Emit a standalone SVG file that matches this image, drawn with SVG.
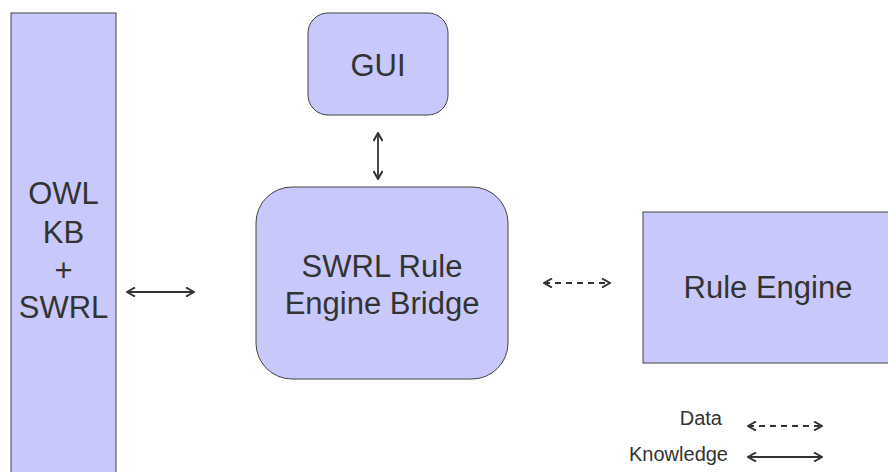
<svg xmlns="http://www.w3.org/2000/svg" width="888" height="472" viewBox="0 0 888 472">
<defs>
<marker id="ah" viewBox="0 0 10 10" refX="9" refY="5" markerWidth="10" markerHeight="10" markerUnits="userSpaceOnUse" orient="auto-start-reverse">
<path d="M1,0.5 L9,5 L1,9.5" fill="none" stroke="#333" stroke-width="2"/>
</marker>
</defs>
<style>
.box{fill:#C8C8FA;stroke:#444;stroke-width:1}
.lbl{font-family:"Liberation Sans",Arial,sans-serif;font-size:31px;fill:#333;text-anchor:middle}
.leg{font-family:"Liberation Sans",Arial,sans-serif;font-size:20px;fill:#333;text-anchor:end}
.k{stroke:#333;stroke-width:1.8;fill:none;marker-start:url(#ah);marker-end:url(#ah)}
.d{stroke:#333;stroke-width:1.8;fill:none;stroke-dasharray:6,5;marker-start:url(#ah);marker-end:url(#ah)}
</style>
<rect width="888" height="472" fill="#fff"/>
<g id="owl">
<rect class="box" x="11" y="13" width="105" height="470"/>
<text class="lbl" x="63.5" y="204">OWL</text>
<text class="lbl" x="63.5" y="243">KB</text>
<text class="lbl" x="63.5" y="281">+</text>
<text class="lbl" x="63.5" y="318">SWRL</text>
</g>
<g id="gui">
<rect class="box" x="308" y="13" width="140" height="102" rx="20"/>
<text class="lbl" x="378" y="76">GUI</text>
</g>
<g id="bridge">
<rect class="box" x="256" y="187" width="252" height="192" rx="36"/>
<text class="lbl" x="382" y="277">SWRL Rule </text>
<text class="lbl" x="382" y="314">Engine Bridge</text>
</g>
<g id="engine">
<rect class="box" x="643" y="212" width="250" height="151"/>
<text class="lbl" x="768" y="298">Rule Engine</text>
</g>
<g id="connectors">
<line class="k" x1="378" y1="133" x2="378" y2="179"/>
<line class="k" x1="127" y1="292" x2="194" y2="292"/>
<line class="d" x1="544" y1="283" x2="610" y2="283"/>
</g>
<g id="legend">
<text class="leg" x="722" y="425">Data</text>
<text class="leg" x="728" y="461">Knowledge</text>
<line class="d" x1="748" y1="426" x2="822" y2="426"/>
<line class="k" x1="748" y1="457" x2="822" y2="457"/>
</g>
</svg>
